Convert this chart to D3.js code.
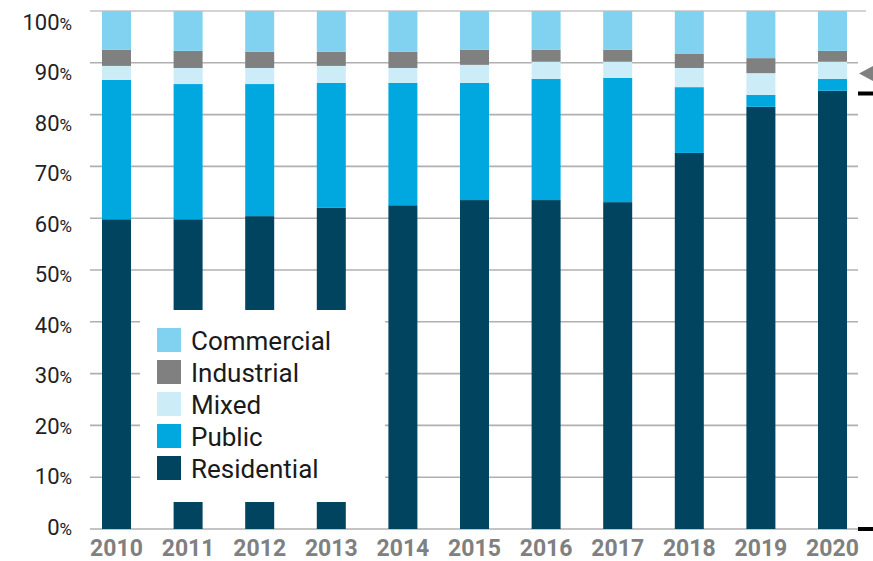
<!DOCTYPE html>
<html>
<head>
<meta charset="utf-8">
<script src="https://cdn.jsdelivr.net/npm/d3@7/dist/d3.min.js"></script>
<style>
  html, body { margin: 0; padding: 0; background: #fff; }
  svg { display: block; }
  text { font-family: Roboto, "Noto Sans", sans-serif; }
</style>
</head>
<body>
<svg id="chart" width="873" height="561"></svg>
<script>
const years = ["2010","2011","2012","2013","2014","2015","2016","2017","2018","2019","2020"];
const residential = [59.8, 59.8, 60.4, 62.0, 62.5, 63.5, 63.5, 63.1, 72.6, 81.5, 84.6];
const publicUse  = [26.9, 26.1, 25.5, 24.1, 23.6, 22.6, 23.4, 24.0, 12.7, 2.3, 2.3];
const mixed      = [2.7, 3.1, 3.1, 3.3, 2.9, 3.5, 3.3, 3.1, 3.7, 4.2, 3.3];
const industrial = [3.1, 3.3, 3.1, 2.7, 3.1, 2.9, 2.3, 2.3, 2.7, 2.9, 2.1];
const commercial = [7.5, 7.7, 7.9, 7.9, 7.9, 7.5, 7.5, 7.5, 8.3, 9.1, 7.7];
const yTicks = [0, 10, 20, 30, 40, 50, 60, 70, 80, 90, 100];
const seriesKeys = ["Residential", "Public", "Mixed", "Industrial", "Commercial"];
const legendOrder = ["Commercial", "Industrial", "Mixed", "Public", "Residential"];
const colors = {
  Commercial: "#80d2f0",
  Industrial: "#808080",
  Mixed: "#ccedf8",
  Public: "#00a8e0",
  Residential: "#01445f"
};

const table = years.map((y, i) => ({
  year: y,
  Residential: residential[i],
  Public: publicUse[i],
  Mixed: mixed[i],
  Industrial: industrial[i],
  Commercial: commercial[i]
}));

const svg = d3.select("#chart");

const x = d3.scaleBand().domain(years).range([80.7, 868.3])
  .paddingInner(0.595).paddingOuter(0.2975);
const y = d3.scaleLinear().domain([0, 100]).range([529, 11]);
const yLab = d3.scaleLinear().domain([0, 100]).range([527, 22]);

// gridlines
svg.append("g").selectAll("line").data(yTicks).join("line")
  .attr("x1", 90).attr("x2", d => d === 100 ? 866 : 858)
  .attr("y1", d => y(d)).attr("y2", d => y(d))
  .attr("stroke", d => d === 100 ? "#c4c4c4" : "#b0b0b0")
  .attr("stroke-width", 1.6);

// stacked bars
const stacked = d3.stack().keys(seriesKeys)(table);
svg.append("g").selectAll("g").data(stacked).join("g")
  .attr("fill", s => colors[s.key])
  .selectAll("rect").data(s => s).join("rect")
  .attr("x", d => x(d.data.year))
  .attr("width", x.bandwidth())
  .attr("y", d => y(d[1]))
  .attr("height", d => y(d[0]) - y(d[1]));

// legend background box
svg.append("rect").attr("x", 140).attr("y", 310).attr("width", 245).attr("height", 192).attr("fill", "#fff");

const legend = svg.append("g").selectAll("g").data(legendOrder).join("g")
  .attr("transform", (d, i) => `translate(157, ${328 + i * 32})`);
legend.append("rect").attr("width", 24).attr("height", 24).attr("fill", d => colors[d]);
legend.append("text").attr("x", 34).attr("y", 22)
  .attr("font-size", 26).attr("fill", "#1a1a1a").text(d => d);

// y labels
const yl = svg.append("g").selectAll("text").data(yTicks).join("text")
  .attr("x", 72).attr("y", d => yLab(d)).attr("dy", "0.36em")
  .attr("text-anchor", "end").attr("font-size", 22).attr("fill", "#222");
yl.append("tspan").text(d => d);
yl.append("tspan").attr("font-size", 17).text("%");

// x labels
svg.append("g").selectAll("text").data(years).join("text")
  .attr("x", d => x(d) + x.bandwidth() / 2).attr("y", 556)
  .attr("text-anchor", "middle").attr("font-size", 23).attr("font-weight", "bold")
  .attr("fill", "#808080").text(d => d);

// right-edge markers (cut-off annotation)
svg.append("path").attr("d", "M859,73.5 L873,66 L873,81 Z").attr("fill", "#808080");
svg.append("rect").attr("x", 858).attr("y", 91.5).attr("width", 15).attr("height", 4).attr("fill", "#000");
svg.append("rect").attr("x", 858).attr("y", 527).attr("width", 15).attr("height", 4).attr("fill", "#000");
</script>
</body>
</html>
